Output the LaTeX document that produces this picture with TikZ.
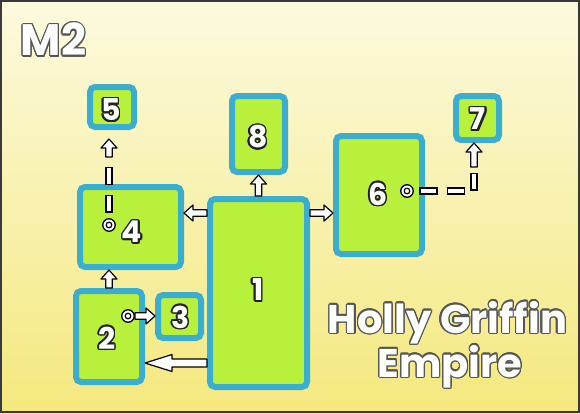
\documentclass[tikz,border=0pt]{standalone}
\usepackage{fontspec}
\newfontfamily\lab{Poppins}
\usetikzlibrary{calc}
\definecolor{bxblue}{HTML}{3BAED0}
\definecolor{bxgreen}{HTML}{B8F03C}
\definecolor{bgtop}{HTML}{FCFADF}
\definecolor{bgbot}{HTML}{F4E87E}
\definecolor{olc}{HTML}{222222}
\definecolor{olt}{HTML}{555555}
\definecolor{frm}{HTML}{3A3A3A}
\newsavebox\olbox
\newdimen\olr
% #1 radius, #2 outline colour, #3 text
\newcommand\outlinedg[3]{{%
  \olr=#1\relax
  \setbox\olbox\hbox{#3}%
  \rlap{\smash{\kern0.9\olr\raisebox{-1.2\olr}{\color{#2!60}\usebox\olbox}}}%
  \foreach \dx/\dy in {1/0,0.924/0.383,0.707/0.707,0.383/0.924,0/1,-0.383/0.924,-0.707/0.707,-0.924/0.383,-1/0,-0.924/-0.383,-0.707/-0.707,-0.383/-0.924,0/-1,0.383/-0.924,0.707/-0.707,0.924/-0.383}{%
    \rlap{\smash{\kern\dx\olr\raisebox{\dy\olr}{\color{#2}\usebox\olbox}}}}%
  \color{white}\usebox\olbox}}
\newcommand\outlined[1]{\outlinedg{1.5pt}{olc}{#1}}
\newcommand\outlinedt[1]{\outlinedg{1.2pt}{olt}{#1}}
\tikzset{
  box/.style 2 args={draw=bxblue, fill=bxgreen, line width=6pt, rounded corners=5pt,
    minimum width=#1pt, minimum height=#2pt, inner sep=0pt},
  bull/.style={circle, draw=black, fill=white, line width=1.3pt, minimum size=12.5pt, inner sep=0pt,
    path picture={\draw[line width=1.2pt] (path picture bounding box.center) circle (2.8pt);}},
  lbl/.style={font=\lab\bfseries\fontsize{30}{30}\selectfont, inner sep=0pt},
  ttl/.style={font=\lab\bfseries\fontsize{40}{40}\selectfont, inner sep=0pt, anchor=base},
  arrshaft/.store in=\arrsw, arrhead/.store in=\arrhw, arrlen/.store in=\arrhl,
  arrshaft=3.2pt, arrhead=8pt, arrlen=9pt,
  barrow/.style={fill=white, draw=black, line width=1.2pt, line join=round,
    to path={let \p1=(\tikztostart), \p2=(\tikztotarget),
      \n1={atan2(\y2-\y1,\x2-\x1)}, \n2={veclen(\x2-\x1,\y2-\y1)} in
      [shift={(\p1)}, rotate=\n1]
      (0pt,-\arrsw) -- ({\n2*1pt-\arrhl},-\arrsw) -- ({\n2*1pt-\arrhl},-\arrhw) -- ({\n2*1pt},0pt)
      -- ({\n2*1pt-\arrhl},\arrhw) -- ({\n2*1pt-\arrhl},\arrsw) -- (0pt,\arrsw) -- cycle}},
  bigarrow/.style={arrshaft=4pt, arrhead=8.5pt, arrlen=27pt},
  dashcon/.style={draw=white, line width=4.6pt, line cap=rect, dash pattern=on 11pt off 16.5pt, dash phase=18.5pt,
    preaction={draw=black, line width=7.2pt, line cap=rect, dash pattern=on 11pt off 16.5pt, dash phase=18.5pt}}
}
\begin{document}
\begin{tikzpicture}[x=1pt,y=-1pt]
\useasboundingbox (0,0) rectangle (580,413);
\shade[top color=bgtop, bottom color=bgbot] (0,0) rectangle (580,413);
\draw[line width=2pt, draw=frm] (1,1) rectangle (579,412);

% boxes
\node[box={97}{188}] (n1) at (258.5,293) {};
\node[box={66}{91}] (n2) at (109,336.5) {};
\node[box={43}{43}] (n3) at (179.5,316.5) {};
\node[box={101}{80}] (n4) at (130.5,227) {};
\node[box={44}{40}] (n5) at (112,107) {};
\node[box={86}{118}] (n6) at (379,195) {};
\node[box={43}{44}] (n7) at (477.5,118) {};
\node[box={53}{76}] (n8) at (258.5,134) {};

% bullseyes
\node[bull] (c4) at (109,225) {};
\node[bull] (c2) at (128,316) {};
\node[bull] (c6) at (407,191) {};

% arrows
\coordinate (p14) at ([yshift=-17pt]n1.north west);
\draw[barrow] (p14) to (n4.east |- p14);
\coordinate (p16) at ([yshift=-17pt]n1.north east);
\draw[barrow] (p16) to (n6.west |- p16);
\draw[barrow] (n1.north) to (n8.south);
\coordinate (p12) at ([yshift=27pt]n1.south west);
\draw[barrow, bigarrow] (p12) to (n2.east |- p12);
\draw[barrow] (n2.north) to (n2.north |- n4.south);
\draw[barrow] (c2.east) to (n3.west |- c2.east);

% dashed 4 -> 5
\coordinate (d45) at (109,157);
\coordinate (t5) at ([yshift=-9pt]n5.south);
\draw[dashcon] (c4.north) -- (d45);
\draw[barrow] (d45) to (d45 |- t5);

% dashed 6 -> 7
\coordinate (k67) at (474,191);
\coordinate (d67) at (474,167);
\draw[dashcon] (c6.east) -- (k67) -- (d67);
\draw[barrow] (d67) to (d67 |- n7.south);

% labels
\node[lbl] (l1) at (258,290) {\outlined{1}};
\node[lbl] (l2) at (107,338) {\outlined{2}};
\node[lbl] (l3) at (180.5,317) {\outlined{3}};
\node[lbl] (l4) at (132,232) {\outlined{4}};
\node[lbl] (l5) at (111,110) {\outlined{5}};
\node[lbl] (l6) at (378,194) {\outlined{6}};
\node[lbl] (l7) at (478,119) {\outlined{7}};
\node[lbl] (l8) at (258,137) {\outlined{8}};

\node[font=\lab\bfseries\fontsize{44}{44}\selectfont, inner sep=0pt] (m2) at (53.5,39.5) {\outlinedt{M2}};
\node[ttl] (t1) at (447.5,333) {\outlinedt{Holly Griffin}};
\node[ttl] (t2) at (450,377) {\outlinedt{Empire}};
\end{tikzpicture}
\end{document}
